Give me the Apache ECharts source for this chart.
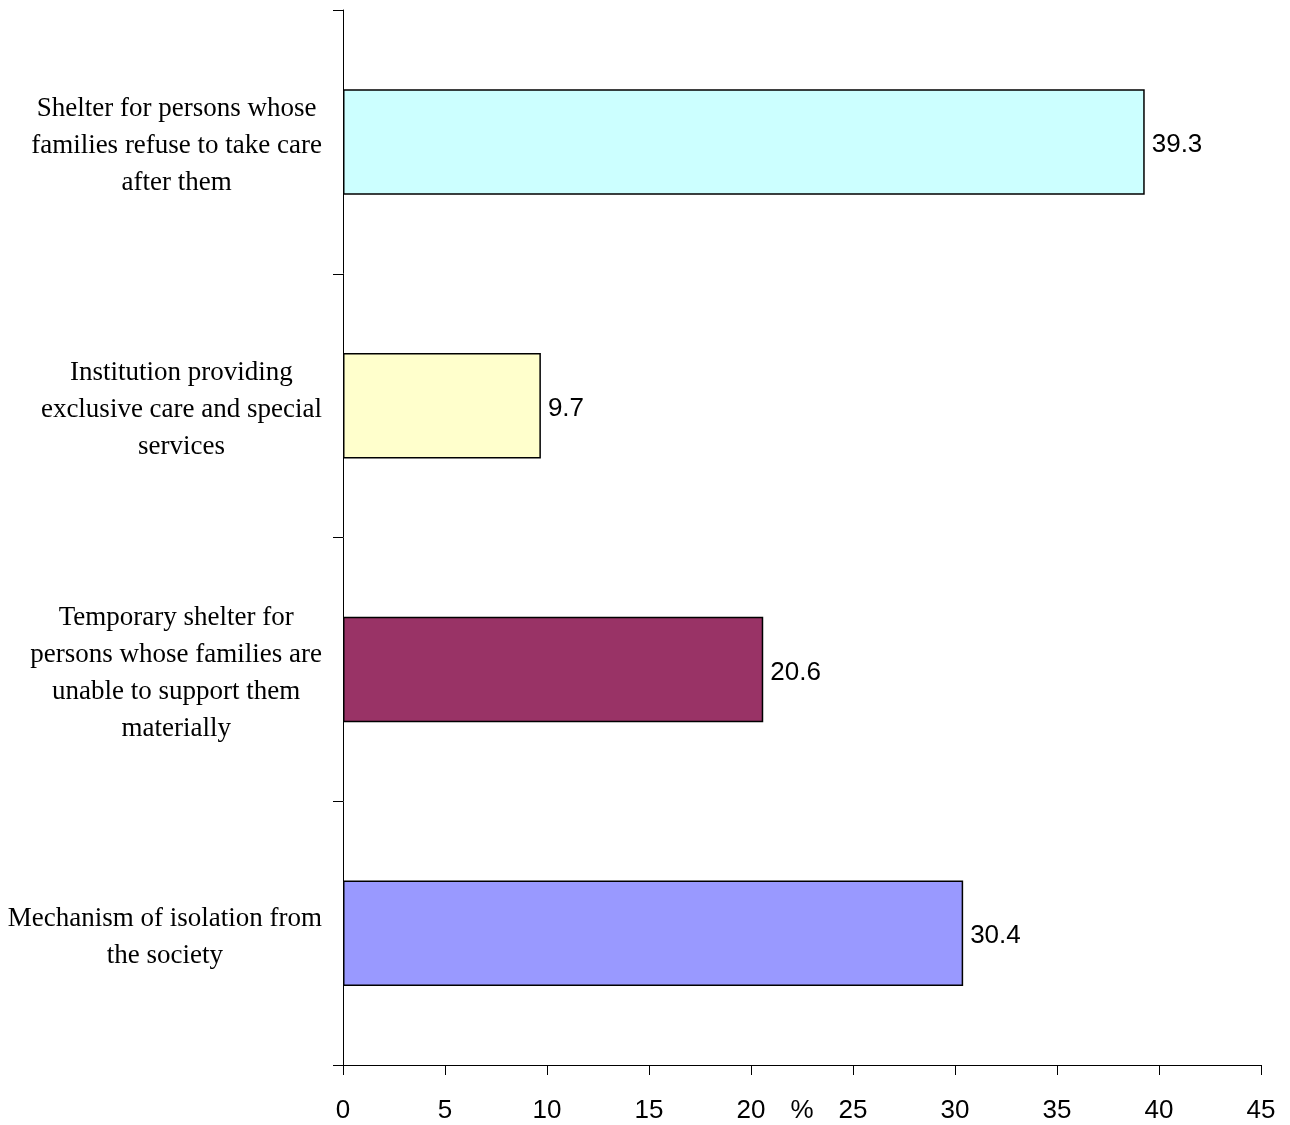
<!DOCTYPE html>
<html>
<head>
<meta charset="utf-8">
<script src="https://cdn.jsdelivr.net/npm/echarts@6/dist/echarts.min.js"></script>
<style>
  html, body { margin: 0; padding: 0; background: #fff; }
  #chart { width: 1290px; height: 1125px; }
</style>
</head>
<body>
<div id="chart"></div>
<script>
// Categories listed bottom to top, each label already broken into its lines
const categories = [
  ['Mechanism of isolation from', 'the society'],
  ['Temporary shelter for', 'persons whose families are', 'unable to support them', 'materially'],
  ['Institution providing', 'exclusive care and special', 'services'],
  ['Shelter for persons whose', 'families refuse to take care', 'after them']
];
const values = [30.4, 20.6, 9.7, 39.3];
const xTicks = { min: 0, max: 45, interval: 5 };
const axisName = '%';

const barColors = ['#9999FF', '#993366', '#FFFFCC', '#CCFFFF'];

const serif = '"Liberation Serif", "Times New Roman", serif';
const numFont = '"Liberation Sans", Arial, sans-serif';

const chart = echarts.init(document.getElementById('chart'), null, { renderer: 'canvas' });

chart.setOption({
  animation: false,
  backgroundColor: '#ffffff',
  grid: { left: 343, right: 29, top: 10, bottom: 60, containLabel: false, outerBoundsMode: 'none' },
  xAxis: {
    type: 'value',
    min: xTicks.min,
    max: xTicks.max,
    interval: xTicks.interval,
    name: axisName,
    nameLocation: 'middle',
    nameGap: 33,
    nameMoveOverlap: false,
    nameTextStyle: { fontFamily: numFont, fontSize: 26, color: '#000', verticalAlign: 'top' },
    axisLine: { show: true, lineStyle: { color: '#000', width: 1 } },
    axisTick: { show: true, length: 10, inside: false, lineStyle: { color: '#000', width: 1 } },
    axisLabel: { fontFamily: numFont, fontSize: 26, color: '#000', margin: 33 },
    splitLine: { show: false }
  },
  yAxis: {
    type: 'category',
    data: categories.map(lines => lines.join('\n')),
    axisLine: { show: true, onZero: false, lineStyle: { color: '#000', width: 1 } },
    axisTick: { show: true, length: 10, alignWithLabel: false, lineStyle: { color: '#000', width: 1 } },
    axisLabel: {
      margin: 21,
      align: 'right',
      padding: [8, 0, 0, 0],
      formatter: v => v.split('\n').map(s => '{t|' + s + '}').join('\n'),
      rich: {
        t: { fontFamily: serif, fontSize: 27, lineHeight: 37, color: '#000', align: 'center' }
      }
    },
    splitLine: { show: false }
  },
  series: [{
    type: 'bar',
    barCategoryGap: '60%',
    data: values.map((v, i) => ({
      value: v,
      itemStyle: { color: barColors[i], borderColor: '#000', borderWidth: 1.5 }
    })),
    label: {
      show: true,
      position: 'right',
      distance: 7,
      offset: [0, 3],
      fontFamily: numFont,
      fontSize: 26,
      color: '#000'
    }
  }]
});
</script>
</body>
</html>
